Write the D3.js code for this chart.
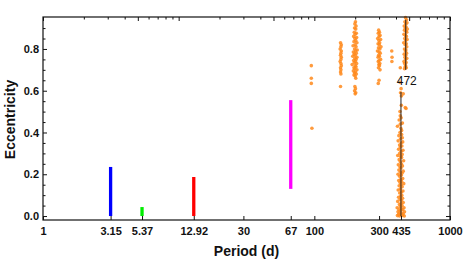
<!DOCTYPE html>
<html>
  <head>
    <meta http-equiv="Content-Type" content="text/html;charset=utf-8">
    <title>Period vs eccentricity</title>
    <script src="https://d3js.org/d3.v7.min.js"></script>
    <style>
      html, body {
        margin: 0;
        padding: 0;
        background: #fff;
      }
      text {
        font-family: "Liberation Sans", Arial, sans-serif;
        font-weight: bold;
        fill: #111;
      }
      .axis path { display: none; }
      .axis line { stroke: #111; stroke-width: 1px; }
    </style>
  </head>
  <body>
    <script type="text/javascript">

// planets shown as vertical ranges of eccentricity
var bandPeriods = [3.15, 5.37, 12.92, 67];
var bandEMin = [0, 0, 0, 0.13];
var bandEMax = [0.235, 0.043, 0.187, 0.555];

// orange scatter [period, eccentricity]
var scatterPoints = [
  [95,0.72],[95,0.66],[95,0.635],[96,0.42],
  [156,0.83],[158,0.82],[157,0.81],[155,0.80],[158,0.79],[157,0.78],[156,0.77],[158,0.76],
  [157,0.75],[155,0.74],[157,0.73],[158,0.72],[156,0.71],[157,0.70],[156,0.69],[157,0.68],[156,0.62],
  [201,0.93],[199,0.92],[203,0.91],[198,0.90],[202,0.895],[197,0.88],[204,0.875],[200,0.87],
  [195,0.86],[205,0.855],[199,0.85],[202,0.84],[196,0.835],[206,0.83],[200,0.82],[193,0.815],
  [203,0.81],[198,0.80],[207,0.795],[201,0.79],[194,0.785],[204,0.78],[197,0.775],[200,0.77],
  [192,0.765],[206,0.76],[199,0.755],[203,0.75],[195,0.745],[201,0.74],[197,0.735],[205,0.73],
  [190,0.725],[200,0.72],[203,0.715],[196,0.71],[199,0.705],[206,0.70],[194,0.695],[201,0.69],
  [198,0.685],[204,0.68],[196,0.675],[200,0.67],[202,0.66],[199,0.62],[201,0.61],[198,0.60],
  [202,0.59],[200,0.585],
  [298,0.89],[302,0.88],[296,0.875],[305,0.865],[300,0.86],[293,0.85],[308,0.845],[299,0.84],
  [303,0.83],[295,0.825],[301,0.82],[310,0.81],[297,0.805],[304,0.80],[292,0.79],[300,0.785],
  [306,0.78],[298,0.77],[302,0.765],[295,0.76],[308,0.75],[300,0.745],[296,0.74],[304,0.73],
  [299,0.725],[302,0.72],[297,0.71],[305,0.70],[300,0.65],[296,0.635],
  [372,0.79],[374,0.76],[373,0.74],
  [470,0.95],[478,0.94],[465,0.93],[482,0.925],[472,0.92],[460,0.91],[475,0.905],[468,0.90],
  [485,0.895],[462,0.89],[474,0.885],[480,0.88],[458,0.87],[470,0.865],[477,0.86],[464,0.85],
  [483,0.845],[471,0.84],[456,0.83],[476,0.825],[467,0.82],[480,0.81],[462,0.80],[473,0.795],
  [469,0.79],[478,0.78],[460,0.775],[472,0.77],[465,0.76],[480,0.755],[470,0.75],[458,0.74],
  [475,0.735],[463,0.73],[471,0.72],[467,0.715],[476,0.71],[462,0.705],[430,0.71],[428,0.64],
  [436,0.61],[432,0.59],[438,0.575],[452,0.585],[468,0.52],[474,0.515],[438,0.53],[428,0.50],
  [436,0.47],[430,0.48],[422,0.46],[446,0.445],[410,0.43],[434,0.42],[440,0.41],[430,0.44],
  [428,0.40],[440,0.39],[420,0.385],[445,0.375],[432,0.37],[415,0.36],[448,0.355],[436,0.35],
  [425,0.34],[442,0.335],[430,0.33],[418,0.32],[450,0.315],[437,0.31],[426,0.30],[444,0.295],
  [412,0.29],[433,0.285],[440,0.28],[422,0.27],[455,0.265],[430,0.26],[438,0.25],[416,0.245],
  [446,0.24],[428,0.235],[435,0.23],[420,0.22],[452,0.215],[431,0.21],[442,0.205],[414,0.20],
  [437,0.195],[425,0.19],[448,0.18],[433,0.175],[419,0.17],[440,0.165],[428,0.16],[456,0.155],
  [436,0.15],[422,0.145],[444,0.14],[431,0.13],[415,0.125],[450,0.12],[438,0.115],[426,0.11],
  [441,0.10],[433,0.095],[418,0.09],[447,0.085],[429,0.08],[438,0.075],[412,0.07],[452,0.065],
  [435,0.06],[424,0.055],[443,0.05],[430,0.045],[408,0.04],[458,0.04],[437,0.035],[420,0.03],
  [448,0.03],[433,0.025],[414,0.02],[462,0.02],[427,0.015],[440,0.012],[452,0.01],[418,0.008],
  [435,0.005],[445,0.003],[424,0.0],[460,0.0],[410,0.002]
];

// black marker lines
var markPeriods = [435, 472];
var markEFrom = [0, 0.70];
var markETo = [0.594, 0.94];
var markLabels = ["", "472"];
var markLabelE = [null, 0.645];

var xTicks = [1, 3.15, 5.37, 12.92, 30, 67, 100, 300, 435, 1000];
var xTickLabels = ["1", "3.15", "5.37", "12.92", "30", "67", "100", "300", "435", "1000"];
var xTopMajor = [1, 5, 10, 50, 100, 500, 1000];
var xTopMinor = [2, 3, 4, 6, 7, 8, 9, 20, 30, 40, 60, 70, 80, 90, 200, 300, 400, 600, 700, 800, 900];
var yTicks = [0, 0.2, 0.4, 0.6, 0.8];
var yTickLabels = ["0.0", "0.2", "0.4", "0.6", "0.8"];
var yMinor = [0.05, 0.1, 0.15, 0.25, 0.3, 0.35, 0.45, 0.5, 0.55, 0.65, 0.7, 0.75, 0.85, 0.9];

var bandColors = ["#0000ff", "#00ee00", "#ff0000", "#ff00ff"];
var orange = "#ff8a1c";

var W = 463, H = 260;
var L = 43, R = 450, T = 17, B = 220;

var svg = d3.select("body").append("svg")
  .attr("width", W)
  .attr("height", H);

var x = d3.scaleLog().domain([1, 1000]).range([L, R]);
var y = d3.scaleLinear().domain([-0.019, 0.953]).range([B, T]);

// bands
svg.selectAll("line.band")
  .data(bandPeriods)
  .enter().append("line")
  .attr("class", "band")
  .attr("x1", function(d) { return x(d); })
  .attr("x2", function(d) { return x(d); })
  .attr("y1", function(d, i) { return y(bandEMin[i]); })
  .attr("y2", function(d, i) { return y(bandEMax[i]); })
  .style("stroke", function(d, i) { return bandColors[i]; })
  .style("stroke-width", 3.3);

// scatter
svg.selectAll("circle.pt")
  .data(scatterPoints)
  .enter().append("circle")
  .attr("class", "pt")
  .attr("cx", function(d) { return x(d[0]); })
  .attr("cy", function(d) { return y(d[1]); })
  .attr("r", 1.8)
  .style("fill", orange)
  .style("fill-opacity", 0.85);

// markers
svg.selectAll("line.mark")
  .data(markPeriods)
  .enter().append("line")
  .attr("class", "mark")
  .attr("x1", function(d) { return x(d); })
  .attr("x2", function(d) { return x(d); })
  .attr("y1", function(d, i) { return y(markEFrom[i]); })
  .attr("y2", function(d, i) { return y(markETo[i]); })
  .style("stroke", "#222")
  .style("stroke-width", 1);

svg.selectAll("text.mark")
  .data(markPeriods.filter(function(d, i) { return markLabels[i]; }))
  .enter().append("text")
  .attr("class", "mark")
  .attr("x", function(d) { return x(d) + 1; })
  .attr("y", function(d) { return y(markLabelE[markPeriods.indexOf(d)]) + 4; })
  .attr("text-anchor", "middle")
  .style("font-size", "12px")
  .style("font-weight", "normal")
  .text(function(d) { return markLabels[markPeriods.indexOf(d)]; });

// axes
svg.append("g").attr("class", "axis")
  .attr("transform", "translate(0," + B + ")")
  .call(d3.axisBottom(x).tickValues(xTicks)
    .tickFormat(function(d, i) { return xTickLabels[i]; })
    .tickSizeInner(-4).tickSizeOuter(0).tickPadding(7))
  .selectAll("text").style("font-size", "11px").style("font-family", "Liberation Sans, Arial, sans-serif").style("font-weight", "bold");

svg.append("g").attr("class", "axis")
  .attr("transform", "translate(0," + T + ")")
  .call(d3.axisTop(x).tickValues(xTopMajor).tickFormat("").tickSizeInner(-4).tickSizeOuter(0));
svg.append("g").attr("class", "axis")
  .attr("transform", "translate(0," + T + ")")
  .call(d3.axisTop(x).tickValues(xTopMinor).tickFormat("").tickSizeInner(-2.5).tickSizeOuter(0));

svg.append("g").attr("class", "axis")
  .attr("transform", "translate(" + L + ",0)")
  .call(d3.axisLeft(y).tickValues(yTicks)
    .tickFormat(function(d, i) { return yTickLabels[i]; })
    .tickSizeInner(-4).tickSizeOuter(0).tickPadding(4))
  .selectAll("text").style("font-size", "11px").style("font-family", "Liberation Sans, Arial, sans-serif").style("font-weight", "bold");
svg.append("g").attr("class", "axis")
  .attr("transform", "translate(" + L + ",0)")
  .call(d3.axisLeft(y).tickValues(yMinor).tickFormat("").tickSizeInner(-2.5).tickSizeOuter(0));

svg.append("g").attr("class", "axis")
  .attr("transform", "translate(" + R + ",0)")
  .call(d3.axisRight(y).tickValues(yTicks).tickFormat("").tickSizeInner(-4).tickSizeOuter(0));
svg.append("g").attr("class", "axis")
  .attr("transform", "translate(" + R + ",0)")
  .call(d3.axisRight(y).tickValues(yMinor).tickFormat("").tickSizeInner(-2.5).tickSizeOuter(0));

// frame
svg.append("rect")
  .attr("x", L).attr("y", T)
  .attr("width", R - L).attr("height", B - T)
  .style("fill", "none")
  .style("stroke", "#111")
  .style("stroke-width", 1.2);

// axis titles
svg.append("text")
  .attr("transform", "translate(15," + ((T + B) / 2 + 1) + ") rotate(-90)")
  .attr("text-anchor", "middle")
  .style("font-size", "14px")
  .text("Eccentricity");

svg.append("text")
  .attr("x", (L + R) / 2)
  .attr("y", 256)
  .attr("text-anchor", "middle")
  .style("font-size", "14px")
  .text("Period (d)");

    </script>
  </body>
</html>
